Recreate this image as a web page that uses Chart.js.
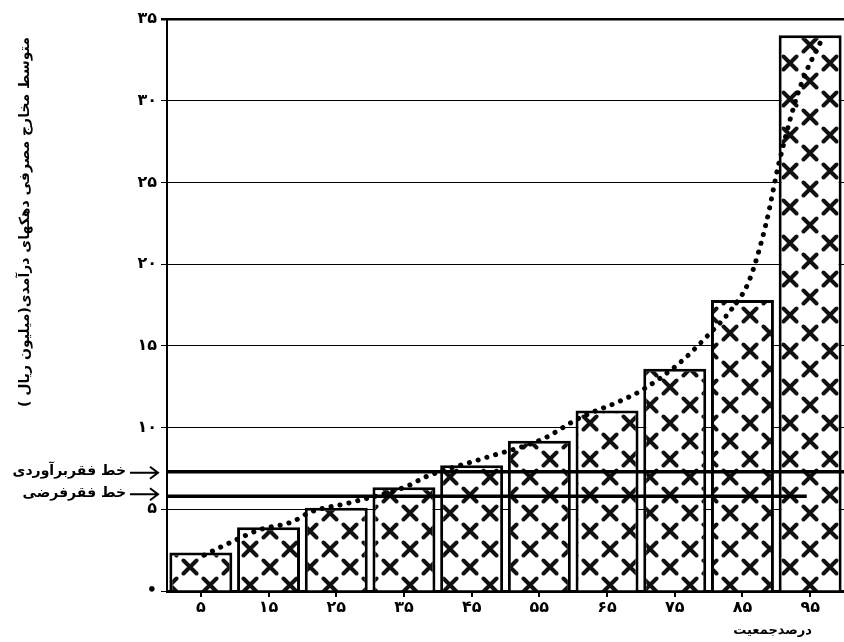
<!DOCTYPE html>
<html>
<head>
<meta charset="utf-8">
<script src="https://cdn.jsdelivr.net/npm/chart.js@4.4.0/dist/chart.umd.min.js"></script>
<style>
  body { margin: 0; background: #fff; }
  #wrap { width: 844px; height: 642px; position: relative; }
</style>
</head>
<body>
<div id="wrap"><canvas id="chart"></canvas></div>
<script>
const categories = ['۵', '۱۵', '۲۵', '۳۵', '۴۵', '۵۵', '۶۵', '۷۵', '۸۵', '۹۵'];
const barValues = [2.35, 3.9, 5.1, 6.35, 7.7, 9.2, 11.05, 13.6, 17.8, 34.0];
const yTickLabels = ['•', '۵', '۱۰', '۱۵', '۲۰', '۲۵', '۳۰', '۳۵'];

// dotted curve, x in percent of population
const curveX = [5.5, 10.3, 13.7, 18.6, 21, 27, 35.4, 38.3, 46.6, 55.5, 61, 66.8, 70.2, 75.7, 79.8, 83.5, 86, 88.5, 90.4, 93.4, 97];
const curveY = [2.2, 3.15, 3.75, 4.25, 4.8, 5.4, 6.4, 7.0, 8.1, 9.3, 10.6, 11.6, 12.3, 13.95, 15.6, 17.3, 19.0, 22.5, 26.2, 30.7, 34.0];

const povertyEstimated = 7.3;   // خط فقر برآوردی
const povertyAssumed = 5.8;     // خط فقر فرضی
const povertyAssumedEnd = 94.5;

const yTitle = 'متوسط مخارج مصرفی دهکهای درآمدی(میلیون ریال )';
const xTitle = 'درصدجمعیت';
const labelEstimated = 'خط فقربرآوردی';
const labelAssumed = 'خط فقرفرضی';

function makeCrossPattern() {
  const c = document.createElement('canvas');
  c.width = 40;
  c.height = 36;
  const g = c.getContext('2d');
  g.fillStyle = '#fff';
  g.fillRect(0, 0, 40, 36);
  g.strokeStyle = '#111';
  g.lineWidth = 4;
  g.lineCap = 'round';
  const centers = [[10, 9], [30, 27], [-10, 27], [50, 27], [30, -9], [10, 45]];
  centers.forEach(([cx, cy]) => {
    g.beginPath();
    g.moveTo(cx - 6.5, cy - 6.5); g.lineTo(cx + 6.5, cy + 6.5);
    g.moveTo(cx + 6.5, cy - 6.5); g.lineTo(cx - 6.5, cy + 6.5);
    g.stroke();
  });
  return g.createPattern(c, 'repeat');
}

const annotationPlugin = {
  id: 'povertyLabels',
  afterDraw(chart) {
    const ctx = chart.ctx;
    const y = chart.scales.y;
    const items = [[labelEstimated, povertyEstimated], [labelAssumed, povertyAssumed]];
    ctx.save();
    ctx.fillStyle = '#000';
    ctx.strokeStyle = '#000';
    ctx.font = 'bold 14px "DejaVu Sans"';
    ctx.textAlign = 'right';
    ctx.textBaseline = 'middle';
    items.forEach(([txt, v], i) => {
      const py = y.getPixelForValue(v) + (i === 0 ? 0 : -3);
      ctx.fillText(txt, 126, py);
      ctx.lineWidth = 2;
      ctx.beginPath();
      ctx.moveTo(130, py + 1);
      ctx.lineTo(158, py + 1);
      ctx.moveTo(150, py - 5);
      ctx.lineTo(158, py + 1);
      ctx.lineTo(150, py + 7);
      ctx.stroke();
    });

    // x-axis title under the last labels
    ctx.font = 'bold 13px "DejaVu Sans"';
    ctx.fillText(xTitle, 812, 631);

    // rotated y-axis title
    ctx.translate(25, 222);
    ctx.rotate(-Math.PI / 2);
    ctx.textAlign = 'center';
    ctx.font = 'bold 14px "DejaVu Sans"';
    ctx.fillText(yTitle, 0, 0);
    ctx.restore();
  }
};

const ctx = document.getElementById('chart').getContext('2d');
new Chart(ctx, {
  data: {
    labels: categories,
    datasets: [
      {
        type: 'bar',
        data: barValues,
        backgroundColor: makeCrossPattern(),
        borderColor: '#000',
        borderWidth: 3,
        grouped: false,
        barPercentage: 0.93,
        categoryPercentage: 1,
        order: 3
      },
      {
        type: 'line',
        xAxisID: 'xp',
        data: [{x: 0, y: povertyEstimated}, {x: 100, y: povertyEstimated}],
        borderColor: '#000',
        borderWidth: 3.5,
        pointRadius: 0,
        order: 2
      },
      {
        type: 'line',
        xAxisID: 'xp',
        data: [{x: 0, y: povertyAssumed}, {x: povertyAssumedEnd, y: povertyAssumed}],
        borderColor: '#000',
        borderWidth: 3.5,
        pointRadius: 0,
        order: 2
      },
      {
        type: 'line',
        xAxisID: 'xp',
        data: curveX.map((x, i) => ({x: x, y: curveY[i]})),
        borderColor: '#000',
        borderWidth: 5,
        borderDash: [0.1, 9],
        borderCapStyle: 'round',
        cubicInterpolationMode: 'monotone',
        pointRadius: 0,
        order: 1
      }
    ]
  },
  options: {
    responsive: true,
    maintainAspectRatio: false,
    animation: false,
    devicePixelRatio: 1,
    layout: { padding: { top: 19, right: 0, left: 0, bottom: 0 } },
    plugins: {
      legend: { display: false },
      tooltip: { enabled: false }
    },
    scales: {
      x: {
        type: 'category',
        offset: true,
        afterFit: s => { s.height = 51; },
        border: { color: '#000', width: 3 },
        grid: { drawOnChartArea: false, drawTicks: true, tickLength: 6, offset: false, color: '#000', lineWidth: 2 },
        ticks: { color: '#000', font: { family: 'DejaVu Sans', size: 16, weight: 'bold' }, padding: 1, maxRotation: 0 }
      },
      xp: {
        type: 'linear',
        display: false,
        offset: false,
        min: 0,
        max: 100
      },
      y: {
        min: 0,
        max: 35,
        afterFit: s => { s.width = 167; },
        border: { color: '#000', width: 2 },
        grid: {
          color: '#000',
          lineWidth: c => (c.tick && c.tick.value === 35 ? 2.5 : 1),
          borderDash: c => (c.tick && c.tick.value === 35 ? [] : [2, 2]),
          tickBorderDash: [],
          tickLength: 6,
          tickColor: '#000'
        },
        ticks: {
          stepSize: 5,
          color: '#000',
          padding: 4,
          font: { family: 'DejaVu Sans', size: 16, weight: 'bold' },
          callback: (v, i) => yTickLabels[i]
        }
      }
    }
  },
  plugins: [annotationPlugin]
});
</script>
</body>
</html>
